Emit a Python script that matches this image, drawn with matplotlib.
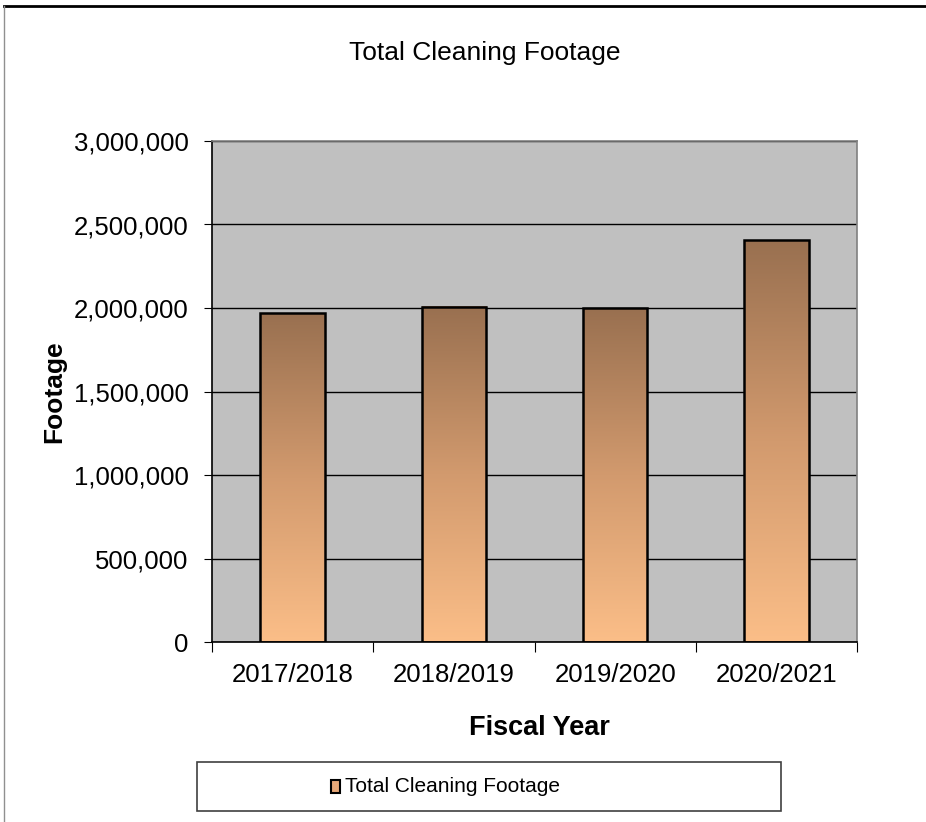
import matplotlib
matplotlib.use("Agg")
import matplotlib.pyplot as plt
import numpy as np
from matplotlib.colors import LinearSegmentedColormap
from matplotlib.patches import Rectangle
from matplotlib.lines import Line2D

plt.rcParams['font.family'] = ['Liberation Sans', 'DejaVu Sans']

categories = ["2017/2018", "2018/2019", "2019/2020", "2020/2021"]
footage = [1968000, 2008000, 1998000, 2407000]
yticks = [0, 500000, 1000000, 1500000, 2000000, 2500000, 3000000]
ytick_labels = ["0", "500,000", "1,000,000", "1,500,000", "2,000,000", "2,500,000", "3,000,000"]

W, H = 926, 822
fig = plt.figure(figsize=(W / 100, H / 100), dpi=100)
fig.patch.set_facecolor("white")

ax = fig.add_axes([212 / W, 1 - 642 / H, (857 - 212) / W, (642 - 141) / H])
ax.set_facecolor("#C0C0C0")
for s in ax.spines.values():
    s.set_color("#808080")
    s.set_linewidth(1.2)
ax.spines['left'].set_color("black")
ax.spines['bottom'].set_color("black")

x = np.arange(len(categories))
ax.set_yticks(yticks)
ax.set_yticklabels(ytick_labels, fontsize=18.5)
ax.yaxis.grid(True, color="black", linewidth=1.0)
ax.set_axisbelow(True)
ax.tick_params(axis='y', length=6, direction='out', pad=11)

ax.set_xticks(np.arange(-0.5, len(categories)), minor=False)
ax.set_xticklabels([])
ax.set_xticks(x, minor=True)
ax.set_xticklabels(categories, minor=True, fontsize=18.5)
ax.tick_params(axis='x', which='major', length=7, direction='out')
ax.tick_params(axis='x', which='minor', length=0, pad=15)

cmap = LinearSegmentedColormap.from_list("bargrad", ["#FBBE88", "#D29A6E", "#997050"])
grad = np.linspace(0, 1, 256).reshape(-1, 1)
bars = ax.bar(x, footage, width=0.4, color="none", edgecolor="black", linewidth=1.8, zorder=3)
for b, v in zip(bars, footage):
    bx, bw = b.get_x(), b.get_width()
    ax.imshow(grad, extent=[bx, bx + bw, 0, v], origin="lower",
              cmap=cmap, aspect="auto", zorder=2, vmin=0, vmax=1)
ax.set_xlim(-0.5, len(categories) - 0.5)
ax.set_ylim(0, 3000000)

ax.set_ylabel("Footage", fontsize=19, fontweight="bold")
ax.yaxis.set_label_coords(-0.226, 0.5)
ax.set_xlabel("Fiscal Year", fontsize=19.5, fontweight="bold")
ax.xaxis.set_label_coords(0.508, -0.146)

fig.text(485 / W, 1 - 53 / H, "Total Cleaning Footage", ha="center", va="center", fontsize=19)

# legend box
lx0, ly0, lx1, ly1 = 197, 762, 781, 811
fig.patches.append(Rectangle((lx0 / W, 1 - ly1 / H), (lx1 - lx0) / W, (ly1 - ly0) / H,
                             transform=fig.transFigure, facecolor="white",
                             edgecolor="#404040", linewidth=1.2))
fig.patches.append(Rectangle((331 / W, 1 - 793 / H), 9 / W, 13 / H,
                             transform=fig.transFigure, facecolor="#E8A878",
                             edgecolor="black", linewidth=1.5))
fig.text(345 / W, 1 - 786 / H, "Total Cleaning Footage", ha="left", va="center", fontsize=15)

# figure frame lines
fig.lines.append(Line2D([4 / W, 1], [1 - 6.5 / H, 1 - 6.5 / H], transform=fig.transFigure,
                        color="black", linewidth=2))
fig.lines.append(Line2D([4 / W, 4 / W], [0, 1 - 6.5 / H], transform=fig.transFigure,
                        color="#909090", linewidth=1))

fig.savefig("out.png", dpi=100)
